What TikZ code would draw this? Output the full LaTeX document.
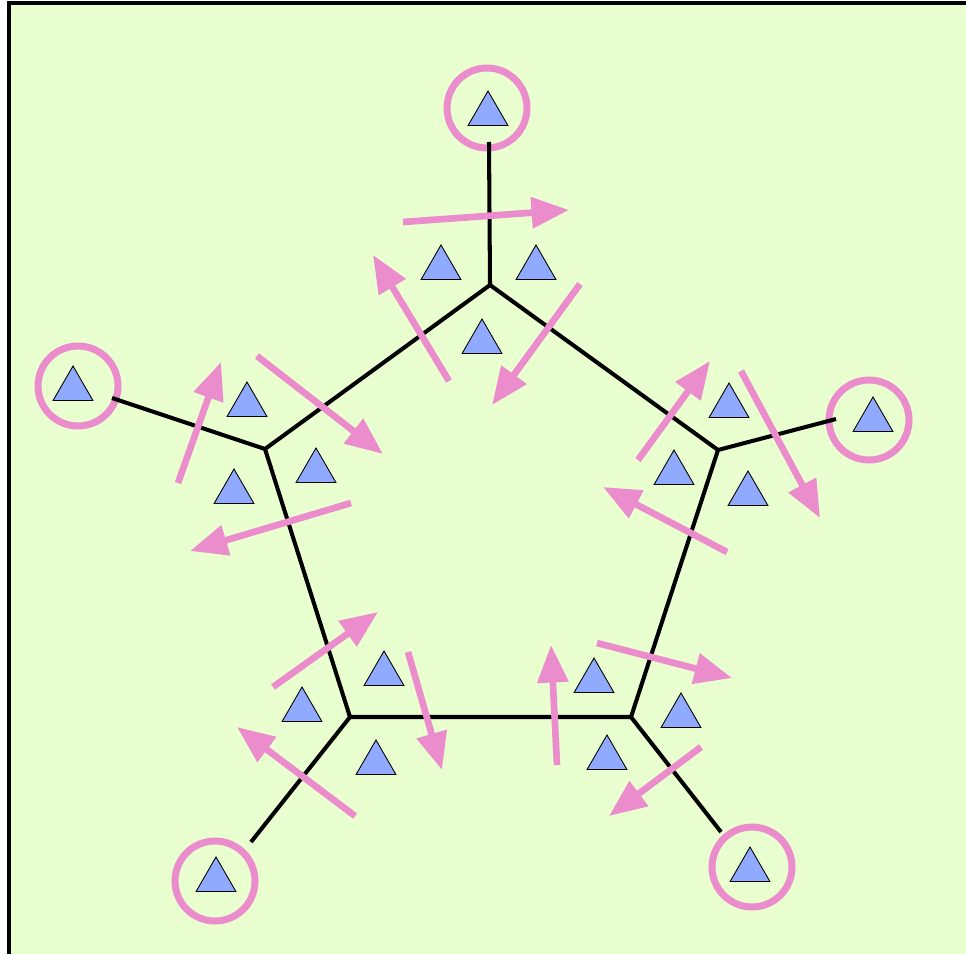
\documentclass[tikz,border=0pt]{standalone}
\usepackage{tikz}
\usetikzlibrary{arrows.meta,shapes.geometric}
\definecolor{meshbg}{RGB}{234,255,208}
\definecolor{flowpink}{RGB}{235,140,205}
\definecolor{cellblue}{RGB}{143,170,255}

\begin{document}
\begin{tikzpicture}[x=0.02cm,y=-0.02cm,
  edge/.style={line width=2.3pt},
  ring/.style={circle,draw=flowpink,line width=4pt,minimum size=1.6cm,inner sep=0pt},
  cell/.style={regular polygon,regular polygon sides=3,draw=black,line width=0.5pt,
    fill=cellblue,minimum size=0.92cm,inner sep=0pt},
  flow/.style={draw=flowpink,line width=3.8pt,-{Triangle[length=0.75cm,width=0.6cm]}}]
\useasboundingbox (0,0) rectangle (966,953);
\clip (0,0) rectangle (966,953);
% frame
\fill[meshbg] (9,3) rectangle (990,990);
\draw[line width=2.3pt] (9,990) -- (9,3) -- (990,3);

% pentagon corners
\coordinate (vt) at (490,285);
\coordinate (vr) at (718,450);
\coordinate (vbr) at (631,717);
\coordinate (vbl) at (350,717);
\coordinate (vl) at (265,449);

% outer rings
\node[ring] (rt) at (487,108) {};
\node[ring] (rl) at (78,386) {};
\node[ring] (rr) at (869,420) {};
\node[ring] (rbl) at (215,881) {};
\node[ring] (rbr) at (752,867) {};

% spoke ends
\coordinate (et) at (489,142);
\coordinate (el) at (112,398);
\coordinate (er) at (836,419);
\coordinate (ebl) at (251,842);
\coordinate (ebr) at (721,832);

% edges
\draw[edge] (vt) -- (vr) -- (vbr) -- (vbl) -- (vl) -- cycle;
\draw[edge] (vt) -- (et);
\draw[edge] (vl) -- (el);
\draw[edge] (vr) -- (er);
\draw[edge] (vbl) -- (ebl);
\draw[edge] (vbr) -- (ebr);

% cells
\node[cell] (c0) at (488,114) {};
\node[cell] (c1) at (441,268) {};
\node[cell] (c2) at (536,268) {};
\node[cell] (c3) at (482,342) {};
\node[cell] (c4) at (247,405) {};
\node[cell] (c5) at (316,471) {};
\node[cell] (c6) at (234,492) {};
\node[cell] (c7) at (73,389) {};
\node[cell] (c8) at (729,406) {};
\node[cell] (c9) at (674,473) {};
\node[cell] (c10) at (748,494) {};
\node[cell] (c11) at (873,420) {};
\node[cell] (c12) at (384,674) {};
\node[cell] (c13) at (302,710) {};
\node[cell] (c14) at (376,763) {};
\node[cell] (c15) at (216,880) {};
\node[cell] (c16) at (594,681) {};
\node[cell] (c17) at (681,716) {};
\node[cell] (c18) at (607,758) {};
\node[cell] (c19) at (750,870) {};

% flows
\foreach \ax/\ay/\bx/\by in {403/222/569/210, 449/381/373/255, 580/284/492/405,
    257/356/383/454, 178/483/221/362, 351/503/190/551,
    638/460/710/361, 741/371/820/518, 727/552/603/487,
    273/687/378/612, 408/652/442/770, 355/816/237/727,
    557/765/551/645, 597/643/732/678, 701/747/609/816}
  \draw[flow] (\ax,\ay) -- (\bx,\by);
\end{tikzpicture}
\end{document}
